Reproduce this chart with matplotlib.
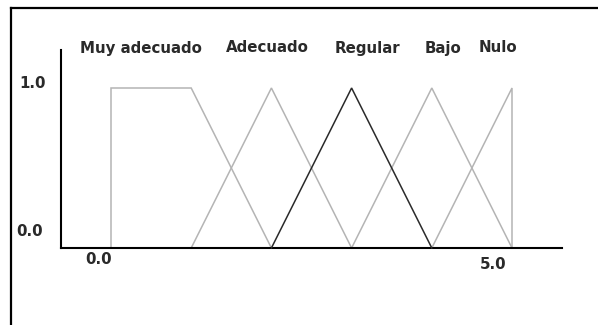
import matplotlib
matplotlib.use("Agg")
import matplotlib.pyplot as plt
from matplotlib.lines import Line2D

categories = ["Muy adecuado", "Adecuado", "Regular", "Bajo", "Nulo"]
xs = [
    [0.0, 0.0, 1.0, 2.0],
    [1.0, 2.0, 3.0],
    [2.0, 3.0, 4.0],
    [3.0, 4.0, 5.0],
    [4.0, 5.0, 5.0],
]
ys = [
    [0.0, 1.0, 1.0, 0.0],
    [0.0, 1.0, 0.0],
    [0.0, 1.0, 0.0],
    [0.0, 1.0, 0.0],
    [0.0, 1.0, 0.0],
]
colors = ["#b4b4b4", "#b4b4b4", "#2a2a2a", "#b4b4b4", "#b4b4b4"]
label_x = [0.37, 1.95, 3.2, 4.14, 4.83]
ytick_labels = ["1.0", "0.0"]
xtick_labels = ["0.0", "5.0"]

W, H = 598, 325
fig = plt.figure(figsize=(W / 100, H / 100), dpi=100)
fig.patch.set_facecolor("white")

# outer frame (top and left)
fig.add_artist(Line2D([11 / W, 1.0], [1 - 8 / H, 1 - 8 / H], color="black", lw=1.6))
fig.add_artist(Line2D([11 / W, 11 / W], [0.0, 1 - 8 / H], color="black", lw=1.6))

ax = fig.add_axes([61 / W, (H - 248) / H, 501 / W, 198 / H])
ax.set_xlim(-50 / 80.2, 5 + 50 / 80.2)
ax.set_ylim(0, 198 / 160)
for s in ["top", "right"]:
    ax.spines[s].set_visible(False)
for s in ["left", "bottom"]:
    ax.spines[s].set_linewidth(1.5)
    ax.spines[s].set_color("black")
ax.set_xticks([])
ax.set_yticks([])
ax.patch.set_alpha(0)

for x, y, c in zip(xs, ys, colors):
    ax.plot(x, y, color=c, lw=1.1, solid_joinstyle="miter", clip_on=False, zorder=3 if c != "#b4b4b4" else 2)

font = dict(family="DejaVu Sans", fontweight="bold", fontsize=10.8, color="#2a2a2a")
for name, lx in zip(categories, label_x):
    ax.text(lx, 1.25, name, ha="center", va="center", clip_on=False, **font)

ax.text(-0.98, 1.03, ytick_labels[0], ha="center", va="center", clip_on=False, **font)
ax.text(-1.01, 0.10, ytick_labels[1], ha="center", va="center", clip_on=False, **font)
ax.text(-0.15, -0.075, xtick_labels[0], ha="center", va="center", clip_on=False, **font)
ax.text(4.76, -0.106, xtick_labels[1], ha="center", va="center", clip_on=False, **font)

fig.savefig("out.png", dpi=100)
